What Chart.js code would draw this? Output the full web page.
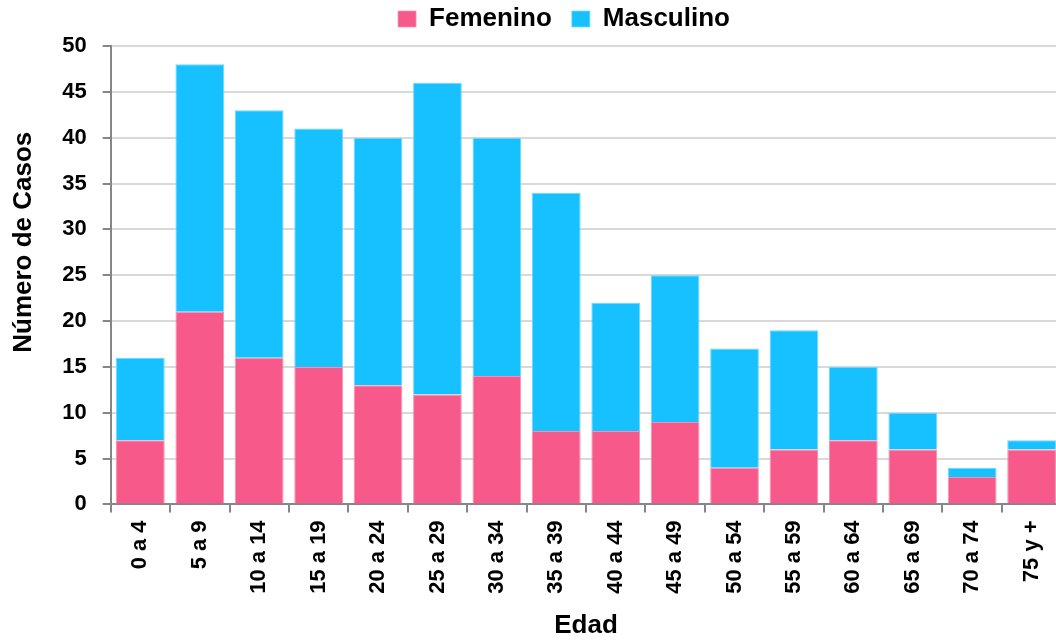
<!DOCTYPE html>
<html>
<head>
<meta charset="utf-8">
<script src="https://cdn.jsdelivr.net/npm/chart.js@4"></script>
<style>
  html, body { margin: 0; padding: 0; background: #fff; overflow: hidden; }
  #wrap { width: 1066px; height: 641px; }
</style>
</head>
<body>
<div id="wrap"><canvas id="myChart" width="1066" height="641"></canvas></div>
<script>
// datos por grupo de edad
const edades = ['0 a 4', '5 a 9', '10 a 14', '15 a 19', '20 a 24', '25 a 29', '30 a 34', '35 a 39',
    '40 a 44', '45 a 49', '50 a 54', '55 a 59', '60 a 64', '65 a 69', '70 a 74', '75 y +'];
const femenino = [7, 21, 16, 15, 13, 12, 14, 8, 8, 9, 4, 6, 7, 6, 3, 6];
const masculino = [9, 27, 27, 26, 27, 34, 26, 26, 14, 16, 13, 13, 8, 4, 1, 1];
const yTicks = [0, 5, 10, 15, 20, 25, 30, 35, 40, 45, 50];

const fontFam = '"Liberation Sans", Arial, sans-serif';

// ajustes de posicion: leyenda corrida a la derecha, titulo del eje y mas arriba
const layoutTweaks = {
    id: 'layoutTweaks',
    beforeInit: function (chart) {
        const fit = chart.legend.fit;
        chart.legend.fit = function () {
            fit.bind(chart.legend)();
            this.height -= 10;
        };
    },
    afterLayout: function (chart) {
        const lg = chart.legend;
        lg.left += 27; lg.right += 27;
        lg.top -= 14; lg.bottom -= 14;

        const ys = chart.scales.y;
        if (!ys._tituloMovido) {
            const drawTitle = ys.drawTitle;
            ys.drawTitle = function () {
                const ctx = this.ctx;
                ctx.save();
                ctx.translate(0, -33);
                drawTitle.call(this);
                ctx.restore();
            };
            ys._tituloMovido = true;
        }
    }
};

const data = {
    labels: edades,
    datasets: [{
        label: 'Femenino',
        data: femenino,
        backgroundColor: '#F75A8A',
        borderColor: '#FA8FAF',
        borderWidth: { top: 1, left: 1, right: 1, bottom: 0 },
        borderSkipped: false,
        barPercentage: 0.82,
        categoryPercentage: 1
    }, {
        label: 'Masculino',
        data: masculino,
        backgroundColor: '#17C0FF',
        borderColor: '#6DD8FF',
        borderWidth: { top: 1, left: 1, right: 1, bottom: 0 },
        borderSkipped: false,
        barPercentage: 0.82,
        categoryPercentage: 1
    }]
};

const config = {
    type: 'bar',
    data: data,
    plugins: [layoutTweaks],
    options: {
        responsive: false,
        animation: false,
        layout: { padding: { left: 8, right: 0, top: 0, bottom: 0 } },
        plugins: {
            legend: {
                position: 'top',
                labels: {
                    boxWidth: 18,
                    boxHeight: 16,
                    padding: 20,
                    color: '#000',
                    font: { family: fontFam, size: 26, weight: 'bold' }
                }
            },
            tooltip: { enabled: false }
        },
        scales: {
            x: {
                stacked: true,
                grid: {
                    offset: true,
                    drawOnChartArea: false,
                    tickLength: 8,
                    color: '#868686',
                    lineWidth: 2
                },
                border: { color: '#868686', width: 2 },
                ticks: {
                    color: '#000',
                    minRotation: 90,
                    maxRotation: 90,
                    autoSkip: false,
                    padding: 8,
                    font: { family: fontFam, size: 22, weight: 'bold' }
                },
                title: {
                    display: true,
                    text: 'Edad',
                    color: '#000',
                    padding: { top: 8, bottom: 0 },
                    font: { family: fontFam, size: 26, weight: 'bold' }
                }
            },
            y: {
                stacked: true,
                min: 0,
                max: 50,
                afterBuildTicks: function (axis) {
                    axis.ticks = yTicks.map(v => ({ value: v }));
                },
                grid: {
                    color: '#D9D9D9',
                    lineWidth: 2,
                    tickLength: 8,
                    tickColor: '#868686'
                },
                border: { color: '#868686', width: 2 },
                ticks: {
                    color: '#000',
                    padding: 16,
                    font: { family: fontFam, size: 22, weight: 'bold' }
                },
                title: {
                    display: true,
                    text: 'Número de Casos',
                    color: '#000',
                    padding: { top: 0, bottom: 7 },
                    font: { family: fontFam, size: 26, weight: 'bold' }
                }
            }
        }
    }
};

const myChart = new Chart(document.getElementById('myChart'), config);
</script>
</body>
</html>
